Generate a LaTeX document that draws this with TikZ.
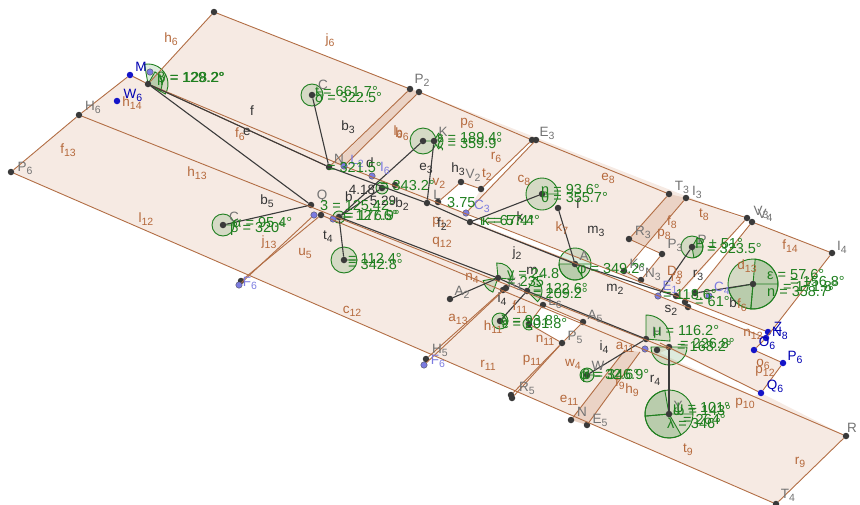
\documentclass[tikz,border=0pt]{standalone}
\usepackage{fontspec}
\setmainfont{Liberation Sans}
\definecolor{panel}{HTML}{F6EAE3}
\definecolor{panelb}{HTML}{EBD3C5}
\definecolor{edge}{HTML}{B26E45}
\definecolor{brownt}{HTML}{B5693C}
\definecolor{ptgrey}{HTML}{3A3A3A}
\definecolor{ptblue}{HTML}{1414C8}
\definecolor{ptlight}{HTML}{7C7CE0}
\definecolor{seg}{HTML}{3C3C3C}
\definecolor{angg}{HTML}{1F7F1F}
\newcommand{\lsub}[1]{\raisebox{-3pt}{\fontsize{10.5}{10.5}\selectfont #1}}
\newcommand{\sect}[4]{\fill[angfill] #1 -- ++(#2:#4pt) arc[start angle=#2,end angle=#3,radius=#4pt] -- cycle;
\draw[angline] #1 -- ++(#2:#4pt) arc[start angle=#2,end angle=#3,radius=#4pt] -- cycle;}
\tikzset{
dot/.style={circle,fill=ptgrey,inner sep=0pt,minimum size=6.5pt},
bluedot/.style={circle,fill=ptblue,inner sep=0pt,minimum size=6.5pt},
lightdot/.style={circle,fill=ptlight,draw=ptgrey,line width=.3pt,inner sep=0pt,minimum size=6.5pt},
edgeline/.style={draw=edge,line width=.9pt},
segline/.style={draw=seg,line width=1.1pt},
brownlab/.style={text=brownt,inner sep=0pt,font=\fontsize{13.5}{14}\selectfont},
blacklab/.style={text=black!80,inner sep=0pt,font=\fontsize{13.5}{14}\selectfont},
greylab/.style={text=black!55,inner sep=0pt,font=\fontsize{13.5}{14}\selectfont},
bluelab/.style={text=ptlight,inner sep=0pt,font=\fontsize{13.5}{14}\selectfont},
anglab/.style={text=angg,inner sep=0pt,anchor=west,font=\fontsize{14.5}{15}\selectfont},
angfill/.style={fill=angg,fill opacity=.15},
angline/.style={draw=angg,line width=.9pt}
}
\begin{document}
\begin{tikzpicture}[x=1pt,y=-1pt]
\useasboundingbox (0,0) rectangle (860,504);
% panels
\fill[panel] (214,12) -- (832,253) -- (766,338) -- (754,350) -- (783,363) -- (761,393) -- (846,436) -- (776,504) -- (11,172) -- (79,115) -- (130,75) -- (148,84) -- cycle;
\fill[white] (461,182) -- (481,189) -- (466,213) -- (438,202) -- cycle;
\fill[white] (645,245) -- (662,254) -- (641,280) -- (624,271) -- cycle;
\fill[white] (543,305) -- (583,322) -- (562,343) -- (529,324) -- cycle;
\fill[white] (747,218) -- (752,222) -- (695,293) -- (683,291) -- cycle;
\fill[white] (532,140) -- (536,141) -- (485,192) -- (481,189) -- cycle;
\fill[white] (466,213) -- (768,332) -- (765,338) -- (470,220) -- cycle;
\fill[white] (669,349) -- (761,393) -- (754,396) -- (660,353) -- cycle;
\fill[panelb] (669,194) -- (686,198) -- (645,245) -- (629,239) -- cycle;
\fill[panelb] (571,420) -- (587,425) -- (640,352) -- (625,350) -- cycle;
\fill[panelb] (410,89) -- (419,92) -- (344,166) -- (334,164) -- cycle;
% angles
\sect{(148,84)}{-30}{100}{20}
\sect{(148,84)}{-30}{60}{14}
\sect{(312,95)}{0}{360}{11}
\sect{(423,141)}{0}{360}{13}
\sect{(434,141)}{-60}{60}{9}
\sect{(542,194)}{0}{360}{16}
\sect{(575,264)}{0}{360}{16}
\sect{(575,264)}{180}{300}{16}
\sect{(692,247)}{0}{360}{11}
\sect{(692,247)}{-80}{60}{11}
\sect{(753,284)}{0}{360}{25}
\sect{(753,284)}{-95}{85}{25}
\sect{(753,284)}{190}{265}{25}
\sect{(498,278)}{-5}{95}{15}
\sect{(498,278)}{190}{250}{15}
\sect{(527,291)}{-45}{60}{15}
\sect{(500,321)}{0}{360}{8}
\sect{(529,324)}{100}{300}{6}
\sect{(646,339)}{-5}{90}{24}
\sect{(669,347)}{180}{360}{18}
\sect{(669,414)}{0}{360}{24}
\sect{(669,414)}{100}{185}{24}
\sect{(669,414)}{185}{300}{24}
\sect{(587,375)}{0}{360}{7}
\sect{(223,225)}{0}{360}{11}
\sect{(344,260)}{0}{360}{13}
\sect{(382,188)}{0}{360}{6}
\sect{(339,217)}{0}{360}{6}
% points
\node[dot] (top) at (214,12) {};
\node[dot] (Pa) at (410,89) {};
\node[dot] (Pb) at (419,92) {};
\node[dot] (Ea) at (532,140) {};
\node[dot] (Eb) at (536,140) {};
\node[dot] (Tc) at (669,194) {};
\node[dot] (Ic) at (686,198) {};
\node[dot] (Vc) at (747,218) {};
\node[dot] (Vd) at (752,222) {};
\node[dot] (Id) at (832,253) {};
\node[bluedot] (Mb) at (130,75) {};
\node[lightdot] (Ml) at (150,72) {};
\node[dot] (Ra) at (148,84) {};
\node[bluedot] (Wf) at (117,101) {};
\node[dot] (Hf) at (79,115) {};
\node[dot] (Pf) at (11,172) {};
\node[dot] (Na) at (329,167) {};
\node[lightdot] (Lb) at (344,166) {};
\node[dot] (Ca) at (312,95) {};
\node[dot] (Ka) at (423,141) {};
\node[dot] (Kb) at (434,141) {};
\node[lightdot] (Ll) at (372,176) {};
\node[dot] (Sa) at (382,188) {};
\node[dot] (Sb) at (395,185) {};
\node[dot] (La) at (427,203) {};
\node[dot] (Lc) at (438,202) {};
\node[dot] (Ha) at (461,182) {};
\node[dot] (Vb) at (481,189) {};
\node[lightdot] (Cc) at (466,213) {};
\node[dot] (Ta) at (470,222) {};
\node[dot] (Qa) at (311,205) {};
\node[lightdot] (Ja) at (314,215) {};
\node[dot] (Jb) at (321,215) {};
\node[lightdot] (Ua) at (333,219) {};
\node[dot] (Ub) at (339,217) {};
\node[dot] (Cf) at (223,225) {};
\node[dot] (Ba) at (344,260) {};
\node[dot] (Uf) at (241,281) {};
\node[lightdot] (Ul) at (239,285) {};
\node[dot] (Fa) at (542,194) {};
\node[dot] (Fb) at (558,208) {};
\node[dot] (Ab) at (575,264) {};
\node[dot] (Ke) at (624,271) {};
\node[dot] (Nc) at (641,280) {};
\node[dot] (Rc) at (629,239) {};
\node[dot] (Pc) at (662,254) {};
\node[dot] (Pp) at (692,247) {};
\node[lightdot] (Eo) at (658,296) {};
\node[dot] (Eg) at (676,296) {};
\node[dot] (Eh) at (685,302) {};
\node[dot] (Ei) at (688,307) {};
\node[dot] (Ej) at (695,293) {};
\node[lightdot] (Cd) at (709,296) {};
\node[dot] (Bg) at (753,284) {};
\node[bluedot] (Zh) at (768,332) {};
\node[bluedot] (Ni) at (766,338) {};
\node[bluedot] (Of) at (754,350) {};
\node[bluedot] (Pg) at (783,363) {};
\node[bluedot] (Qg) at (761,393) {};
\node[dot] (Da) at (498,278) {};
\node[dot] (Db) at (503,290) {};
\node[dot] (Dc) at (506,288) {};
\node[dot] (Dd) at (527,291) {};
\node[dot] (Ac) at (450,299) {};
\node[dot] (Lf) at (543,305) {};
\node[dot] (Ae) at (583,322) {};
\node[dot] (Pe) at (562,343) {};
\node[dot] (Pd) at (529,324) {};
\node[dot] (Hg) at (500,321) {};
\node[dot] (Hh) at (646,339) {};
\node[lightdot] (El) at (645,349) {};
\node[dot] (Em) at (657,350) {};
\node[dot] (En) at (669,347) {};
\node[dot] (Hm) at (426,359) {};
\node[lightdot] (Fl) at (424,365) {};
\node[dot] (Rd) at (511,395) {};
\node[dot] (Re) at (512,398) {};
\node[dot] (Ne) at (571,420) {};
\node[dot] (Ef) at (587,425) {};
\node[dot] (Wa) at (587,375) {};
\node[dot] (Ya) at (669,414) {};
\node[dot] (Rr) at (846,436) {};
\node[dot] (Tg) at (776,504) {};
\coordinate (Gd) at (625,350);
\coordinate (Ge) at (640,352);
\coordinate (Gf) at (660,343);
\coordinate (Gg) at (669,349);
\coordinate (Gh) at (650,352);
% edges
\draw[edgeline] (top) -- (Pa);
\draw[edgeline] (Pb) -- (Ea);
\draw[edgeline] (Eb) -- (Tc);
\draw[edgeline] (Ic) -- (Vc);
\draw[edgeline] (Vd) -- (Id);
\draw[edgeline] (Id) -- (Ni);
\draw[edgeline] (Ni) -- (Of);
\draw[edgeline] (Of) -- (Pg);
\draw[edgeline] (Pg) -- (Qg);
\draw[edgeline] (Gh) -- (Rr);
\draw[edgeline] (Rr) -- (Tg);
\draw[edgeline] (Tg) -- (Pf);
\draw[edgeline] (Pf) -- (Hf);
\draw[edgeline] (Hf) -- (Mb);
\draw[edgeline] (Mb) -- (Ra);
\draw[edgeline] (Ra) -- (top);
\draw[edgeline] (Ra) -- (Lb);
\draw[edgeline] (Ra) -- (Na);
\draw[edgeline] (Pa) -- (Na);
\draw[edgeline] (Pb) -- (Lb);
\draw[edgeline] (Lb) -- (Zh);
\draw[edgeline] (Ta) -- (Ni);
\draw[edgeline] (Hf) -- (Gg);
\draw[edgeline] (Jb) -- (Gh);
\draw[edgeline] (Gf) -- (Qg);
\draw[edgeline] (Jb) -- (Uf);
\draw[edgeline] (Ja) -- (Ul);
\draw[edgeline] (Ea) -- (Vb);
\draw[edgeline] (Eb) -- (Cc);
\draw[edgeline] (Ha) -- (Vb);
\draw[edgeline] (Ha) -- (Lc);
\draw[edgeline] (Tc) -- (Rc);
\draw[edgeline] (Ic) -- (Ke);
\draw[edgeline] (Rc) -- (Pc);
\draw[edgeline] (Pc) -- (Nc);
\draw[edgeline] (Nc) -- (Ke);
\draw[edgeline] (Vc) -- (Eg);
\draw[edgeline] (Vd) -- (Ej);
\draw[edgeline] (Hm) -- (Db);
\draw[edgeline] (Fl) -- (Dc);
\draw[edgeline] (Rd) -- (Pe);
\draw[edgeline] (Re) -- (Pe);
\draw[edgeline] (Lf) -- (Ae);
\draw[edgeline] (Ae) -- (Pe);
\draw[edgeline] (Pe) -- (Pd);
\draw[edgeline] (Pd) -- (Lf);
\draw[edgeline] (Ne) -- (Gd);
\draw[edgeline] (Ef) -- (Ge);
% segments
\draw[segline] (Ra) -- (Qa);
\draw[segline] (Ra) -- (Na);
\draw[segline] (Na) -- (La);
\draw[segline] (La) -- (Ta);
\draw[segline] (Ta) -- (Ab);
\draw[segline] (Ab) -- (Eg);
\draw[segline] (Ub) -- (Da);
\draw[segline] (Da) -- (Dd);
\draw[segline] (Dd) -- (Hh);
\draw[segline] (Ca) -- (Na);
\draw[segline] (Ka) -- (Ub);
\draw[segline] (Kb) -- (La);
\draw[segline] (Sa) -- (Ub);
\draw[segline] (Cf) -- (Qa);
\draw[segline] (Ub) -- (Ba);
\draw[segline] (Fa) -- (Ta);
\draw[segline] (Fb) -- (Ab);
\draw[segline] (Da) -- (Ac);
\draw[segline] (Dd) -- (Hg);
\draw[segline] (Hh) -- (Wa);
\draw[segline] (En) -- (Ya);
\draw[segline] (Pp) -- (Eo);
\draw[segline] (Bg) -- (Ej);
% brown labels
\node[brownlab] (lh6) at (171,39) {h\lsub{6}};
\node[brownlab] (lj6) at (330,40) {j\lsub{6}};
\node[brownlab] (lf6) at (240,134) {f\lsub{6}};
\node[brownlab] (lh14) at (132,103) {h\lsub{14}};
\node[brownlab] (lf13) at (68,150) {f\lsub{13}};
\node[brownlab] (lh13) at (197,173) {h\lsub{13}};
\node[brownlab] (ll12) at (146,219) {l\lsub{12}};
\node[brownlab] (lj13) at (269,242) {j\lsub{13}};
\node[brownlab] (lu5) at (305,253) {u\lsub{5}};
\node[brownlab] (lc12) at (352,311) {c\lsub{12}};
\node[brownlab] (lq12) at (442,242) {q\lsub{12}};
\node[brownlab] (la13) at (458,319) {a\lsub{13}};
\node[brownlab] (lr11) at (488,365) {r\lsub{11}};
\node[brownlab] (lp11) at (532,360) {p\lsub{11}};
\node[brownlab] (lh11) at (493,327) {h\lsub{11}};
\node[brownlab] (ln11) at (545,340) {n\lsub{11}};
\node[brownlab] (le11) at (569,400) {e\lsub{11}};
\node[brownlab] (lt9) at (688,450) {t\lsub{9}};
\node[brownlab] (lr9) at (800,462) {r\lsub{9}};
\node[brownlab] (lp10) at (745,403) {p\lsub{10}};
\node[brownlab] (lp12) at (765,371) {p\lsub{12}};
\node[brownlab] (lo6) at (763,364) {o\lsub{6}};
\node[brownlab] (ln12) at (753,334) {n\lsub{12}};
\node[brownlab] (lh9) at (632,390) {h\lsub{9}};
\node[brownlab] (lf9) at (620,383) {f\lsub{9}};
\node[brownlab] (lw4) at (573,364) {w\lsub{4}};
\node[brownlab] (la11) at (625,347) {a\lsub{11}};
\node[brownlab] (lp6) at (467,123) {p\lsub{6}};
\node[brownlab] (ll6) at (398,132) {l\lsub{6}};
\node[brownlab] (lb6) at (402,134) {b\lsub{6}};
\node[brownlab] (lr6) at (496,157) {r\lsub{6}};
\node[brownlab] (lt2) at (487,175) {t\lsub{2}};
\node[brownlab] (lv2) at (439,183) {v\lsub{2}};
\node[brownlab] (lc8) at (524,180) {c\lsub{8}};
\node[brownlab] (le8) at (608,178) {e\lsub{8}};
\node[brownlab] (lk7) at (562,228) {k\lsub{7}};
\node[brownlab] (lf8) at (672,222) {f\lsub{8}};
\node[brownlab] (lp8) at (664,234) {p\lsub{8}};
\node[brownlab] (lt8) at (704,215) {t\lsub{8}};
\node[brownlab] (lf14) at (790,246) {f\lsub{14}};
\node[brownlab] (ld13) at (747,266) {d\lsub{13}};
\node[brownlab] (ld8) at (675,272) {D\lsub{8}};
\node[brownlab] (lr3b) at (676,279) {r\lsub{3}};
\node[brownlab] (lb6b) at (742,305) {f\lsub{6}};
\node[brownlab] (ln4) at (472,278) {n\lsub{4}};
\node[brownlab] (lf11) at (520,307) {f\lsub{11}};
\node[brownlab] (lp12b) at (442,222) {p\lsub{12}};
% black labels
\node[blacklab] (tf) at (252,111) {f};
\node[blacklab] (te) at (247,132) {e};
\node[blacklab] (tb3) at (348,127) {b\lsub{3}};
\node[blacklab] (td) at (370,163) {d};
\node[blacklab] (tb) at (349,197) {b};
\node[blacklab] (t418) at (362,190) {4.18};
\node[blacklab] (t529) at (383,201) {5.29};
\node[blacklab] (tb2) at (402,204) {b\lsub{2}};
\node[blacklab] (tb5) at (267,201) {b\lsub{5}};
\node[blacklab] (tt4) at (328,237) {t\lsub{4}};
\node[blacklab] (te3) at (426,168) {e\lsub{3}};
\node[blacklab] (th3) at (458,169) {h\lsub{3}};
\node[blacklab] (tf2) at (442,224) {f\lsub{2}};
\node[blacklab] (tj2) at (517,253) {j\lsub{2}};
\node[blacklab] (tm3) at (596,231) {m\lsub{3}};
\node[blacklab] (tm) at (532,271) {m};
\node[blacklab] (tm2) at (615,289) {m\lsub{2}};
\node[blacklab] (ts2) at (671,310) {s\lsub{2}};
\node[blacklab] (tr3) at (698,275) {r\lsub{3}};
\node[blacklab] (ti4) at (502,299) {i\lsub{4}};
\node[blacklab] (ti4b) at (604,347) {i\lsub{4}};
\node[blacklab] (tr4) at (655,380) {r\lsub{4}};
\node[blacklab] (tfb) at (578,204) {f};
\node[blacklab] (tk) at (520,217) {k};
\node[blacklab] (tb6) at (733,303) {b};
% point labels
\node[greylab] (nHf) at (93,107) {H\lsub{6}};
\node[greylab] (nPf) at (25,168) {P\lsub{6}};
\node[greylab] (nCa) at (323,85) {C};
\node[greylab] (nPa) at (422,80) {P\lsub{2}};
\node[greylab] (nNa) at (339,159) {N};
\node[greylab] (nQa) at (322,196) {Q};
\node[greylab] (nCf) at (234,217) {C};
\node[greylab] (nKa) at (443,132) {K};
\node[greylab] (nEa) at (547,133) {E\lsub{3}};
\node[greylab] (nTc) at (682,187) {T\lsub{3}};
\node[greylab] (nIc) at (697,192) {I\lsub{3}};
\node[greylab] (nVc) at (761,212) {V\lsub{3}};
\node[greylab] (nVd) at (765,215) {V\lsub{4}};
\node[greylab] (nId) at (842,247) {I\lsub{4}};
\node[greylab] (nLc) at (437,195) {L};
\node[greylab] (nVb) at (473,175) {V\lsub{2}};
\node[greylab] (nRc) at (643,232) {R\lsub{3}};
\node[greylab] (nPc) at (675,245) {P\lsub{3}};
\node[greylab] (nPp) at (702,240) {P};
\node[greylab] (nNc) at (653,274) {N\lsub{3}};
\node[greylab] (nKe) at (637,265) {K\lsub{6}};
\node[greylab] (nAb) at (584,256) {A};
\node[greylab] (nAc) at (462,292) {A\lsub{2}};
\node[greylab] (nDa) at (515,284) {K\lsub{1}};
\node[greylab] (nLf) at (555,302) {L\lsub{6}};
\node[greylab] (nAe) at (595,316) {A\lsub{5}};
\node[greylab] (nPe) at (575,337) {P\lsub{5}};
\node[greylab] (nHm) at (440,350) {H\lsub{5}};
\node[greylab] (nRd) at (527,388) {R\lsub{5}};
\node[greylab] (nNe) at (582,412) {N};
\node[greylab] (nEf) at (600,420) {E\lsub{5}};
\node[greylab] (nWa) at (598,366) {W};
\node[greylab] (nHh) at (657,332) {H};
\node[greylab] (nYa) at (678,406) {Y};
\node[greylab] (nRr) at (852,428) {R};
\node[greylab] (nTg) at (788,495) {T\lsub{4}};
\node[bluelab,text=blue!70!black] (nMb) at (141,67) {M};
\node[bluelab,text=blue!70!black] (nWf) at (133,95) {W\lsub{6}};
\node[bluelab] (nLb) at (357,161) {L\lsub{2}};
\node[bluelab] (nLl) at (385,168) {I\lsub{6}};
\node[bluelab] (nCc) at (482,206) {C\lsub{3}};
\node[bluelab] (nEo) at (670,287) {E\lsub{1}};
\node[bluelab] (nCd) at (722,288) {C\lsub{4}};
\node[bluelab] (nFl) at (438,361) {F\lsub{6}};
\node[bluelab] (nUl) at (250,283) {F\lsub{6}};
\node[bluelab,text=blue!70!black] (nZh) at (778,327) {Z};
\node[bluelab,text=blue!70!black] (nNi) at (780,333) {N\lsub{8}};
\node[bluelab,text=blue!70!black] (nOf) at (767,343) {O\lsub{6}};
\node[bluelab,text=blue!70!black] (nPg) at (795,357) {P\lsub{6}};
\node[bluelab,text=blue!70!black] (nQg) at (775,386) {Q\lsub{6}};
% angle labels
\node[anglab] (a1) at (157,79) {β = 129.2°};
\node[anglab] (a2) at (159,79) {γ = 128.2°};
\node[anglab] (a3) at (315,92) {t = 661.7°};
\node[anglab] (a4) at (315,97) {δ = 322.5°};
\node[anglab] (a5) at (437,138) {ε = 189.4°};
\node[anglab] (a6) at (437,144) {ζ = 359.9°};
\node[anglab] (a7) at (541,191) {η = 93.6°};
\node[anglab] (a8) at (541,197) {θ = 355.7°};
\node[anglab] (a9) at (480,221) {ι = 67.4°};
\node[anglab] (a10) at (482,221) {κ = 57.4°};
\node[anglab] (a11) at (577,270) {φ = 349.2°};
\node[anglab] (a12) at (695,244) {P ± 51°};
\node[anglab] (a13) at (707,249) {= 323.5°};
\node[anglab] (a14) at (767,275) {ε = 57.6°};
\node[anglab] (a15) at (790,282) {= 156.8°};
\node[anglab] (a16) at (783,287) {= 171.8°};
\node[anglab] (a17) at (767,292) {n = 358.7°};
\node[anglab] (a18) at (695,302) {= 61°};
\node[anglab] (a19) at (663,295) {= 118.6°};
\node[anglab] (a20) at (507,275) {γ = 24.8};
\node[anglab] (a21) at (507,282) {= 235};
\node[anglab] (a22) at (533,289) {= 122.6°};
\node[anglab] (a23) at (533,294) {= 209.2°};
\node[anglab] (a24) at (500,320) {δ = 93.8°};
\node[anglab] (a25) at (502,324) {ε = 201.8°};
\node[anglab] (a26) at (653,332) {μ = 116.2°};
\node[anglab] (a27) at (680,344) {= 226.8°};
\node[anglab] (a28) at (677,347) {= 168.2°};
\node[anglab] (a29) at (580,375) {α = 32.6°};
\node[anglab] (a30) at (582,376) {β = 346.9°};
\node[anglab] (a31) at (673,409) {ψ = 101°};
\node[anglab] (a32) at (673,411) {ω = 143°};
\node[anglab] (a33) at (683,420) {= 264°};
\node[anglab] (a34) at (667,423) {λ = 346°};
\node[anglab] (a35) at (343,216) {= 127.6°};
\node[anglab] (a36) at (345,216) {= 176.9°};
\node[anglab] (a37) at (320,206) {3 = 125.42°};
\node[anglab] (a38) at (348,258) {= 112.4°};
\node[anglab] (a39) at (348,265) {= 342.8°};
\node[anglab] (a40) at (233,223) {α = 95.4°};
\node[anglab] (a41) at (230,229) {β = 320°};
\node[anglab] (a42) at (380,186) {= 343.2°};
\node[anglab] (a43) at (327,168) {= 321.5°};
\node[anglab] (a44) at (447,203) {3.75};
\end{tikzpicture}
\end{document}
